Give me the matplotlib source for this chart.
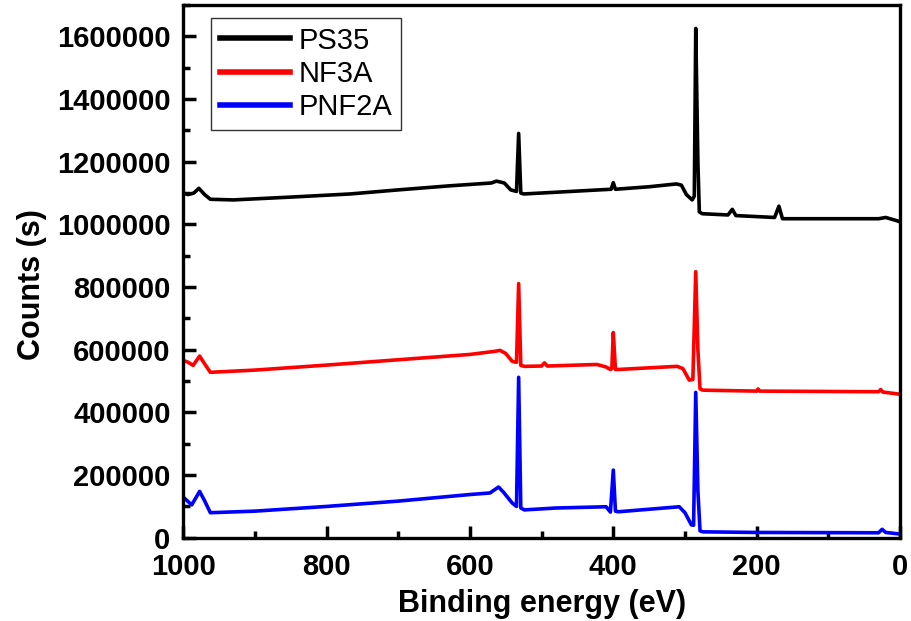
import matplotlib
matplotlib.use("Agg")
import matplotlib.pyplot as plt
from matplotlib.ticker import MultipleLocator

# ---- data (binding energy in eV, counts) ----
ps35_e = [1000, 993, 985, 978, 970, 962, 930, 850, 767, 700, 628, 570, 563, 552,
          543, 535, 532, 529, 525, 500, 420, 403, 400, 397, 350, 312, 305, 298,
          290, 287, 285, 282, 280, 276, 240, 234, 229, 175, 169, 164, 100, 30,
          20, 5, 0]
ps35_c = [1100000, 1095000, 1100000, 1115000, 1095000, 1080000, 1078000, 1087000,
          1097000, 1110000, 1123000, 1132000, 1138000, 1132000, 1110000, 1105000,
          1290000, 1100000, 1097000, 1100000, 1110000, 1112000, 1133000, 1112000,
          1120000, 1129000, 1125000, 1095000, 1078000, 1090000, 1625000, 1200000,
          1040000, 1034000, 1030000, 1048000, 1028000, 1022000, 1058000, 1018000,
          1018000, 1018000, 1022000, 1012000, 1008000]

nf3a_e = [1000, 993, 986, 977, 970, 962, 900, 800, 700, 600, 565, 558, 550, 541,
          535, 532, 529, 524, 500, 496, 492, 423, 410, 404, 402, 400, 397, 393,
          311, 303, 294, 289, 285, 282, 279, 275, 200, 198, 196, 30, 27, 24, 0]
nf3a_c = [566000, 560000, 550000, 580000, 555000, 528000, 535000, 551000, 568000,
          585000, 595000, 598000, 588000, 563000, 560000, 811000, 550000, 547000,
          548000, 558000, 548000, 553000, 545000, 537000, 540000, 655000, 537000,
          537000, 547000, 540000, 503000, 505000, 849000, 600000, 475000, 471000,
          468000, 475000, 468000, 466000, 473000, 465000, 458000]

pnf2a_e = [1000, 988, 977, 970, 962, 900, 800, 700, 600, 572, 560, 553, 541, 535,
           532, 529, 524, 480, 410, 404, 400, 397, 393, 308, 300, 291, 288, 285,
           282, 279, 275, 200, 30, 25, 20, 0]
pnf2a_c = [130000, 105000, 148000, 118000, 80000, 85000, 100000, 117000, 138000,
           143000, 162000, 145000, 111000, 100000, 512000, 95000, 89000, 95000,
           99000, 82000, 216000, 85000, 83000, 99000, 80000, 41000, 40000, 464000,
           150000, 22000, 19000, 17000, 16000, 27000, 17000, 12000]

series = [("PS35", ps35_e, ps35_c, "black"),
          ("NF3A", nf3a_e, nf3a_c, "#ff0000"),
          ("PNF2A", pnf2a_e, pnf2a_c, "#0000ff")]

plt.rcParams["font.family"] = ["Liberation Sans", "DejaVu Sans"]

fig = plt.figure(figsize=(9.11, 6.21), dpi=100)
ax = fig.add_axes([0.201, 0.134, 0.787, 0.858])

for name, e, c, col in series:
    ax.plot(e, c, color=col, lw=2.6, label=name)

ax.set_xlim(1000, 0)
ax.set_ylim(0, 1700000)
ax.xaxis.set_major_locator(MultipleLocator(200))
ax.xaxis.set_minor_locator(MultipleLocator(100))
ax.yaxis.set_major_locator(MultipleLocator(200000))
ax.yaxis.set_minor_locator(MultipleLocator(100000))
ax.ticklabel_format(axis="y", style="plain", useOffset=False)

ax.tick_params(which="both", direction="in", width=2.5, top=False, right=False)
ax.tick_params(which="major", length=9, labelsize=21)
ax.tick_params(axis="x", which="major", pad=11)
ax.tick_params(axis="y", which="major", pad=9)
ax.tick_params(which="minor", length=5)
for lab in ax.get_xticklabels() + ax.get_yticklabels():
    lab.set_fontweight("bold")
for sp in ax.spines.values():
    sp.set_linewidth(2.4)

ax.set_xlabel("Binding energy (eV)", fontsize=22, fontweight="bold", labelpad=6)
ax.set_ylabel("Counts (s)", fontsize=22, fontweight="bold")
ax.yaxis.set_label_coords(-0.19, 0.475)

leg = ax.legend(loc="upper left", bbox_to_anchor=(0.039, 0.976), fontsize=21,
                frameon=True, fancybox=False, edgecolor="black",
                handlelength=2.4, handletextpad=0.3, labelspacing=0.18,
                borderpad=0.3, borderaxespad=0.0)
leg.get_frame().set_linewidth(1.0)
for h in leg.get_lines():
    h.set_linewidth(4)

fig.savefig("out.png", dpi=100)
